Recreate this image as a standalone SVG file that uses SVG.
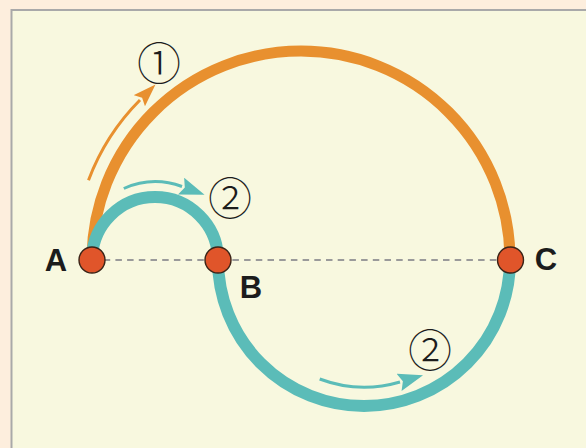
<svg xmlns="http://www.w3.org/2000/svg" width="586" height="448" viewBox="0 0 586 448">
<style>
.arc{fill:none}
.or{stroke:#e8902f}
.te{stroke:#5bbcb8}
.dash{stroke:#9a9a9a;stroke-width:2;stroke-dasharray:6.5 5.2;fill:none}
.pt{fill:#e0552a;stroke:#3a2418;stroke-width:1.4}
.lbl{font-family:"Liberation Sans",Arial,sans-serif;font-weight:bold;font-size:31px;fill:#1c1c1c;text-anchor:middle}
.num{font-family:"Noto Sans CJK JP","DejaVu Sans",sans-serif;font-size:44px;font-weight:300;fill:#1c1c1c;text-anchor:middle;dominant-baseline:central}
</style>
<defs>
<marker id="mo" markerUnits="userSpaceOnUse" markerWidth="26" markerHeight="18" refX="1" refY="8" orient="auto">
<path d="M0,0 L23,8 L0,16 L4,8 Z" fill="#e8902f"/>
</marker>
<marker id="mt" markerUnits="userSpaceOnUse" markerWidth="28" markerHeight="20" refX="1" refY="9" orient="auto">
<path d="M0,0 L25,9 L0,18 L4,9 Z" fill="#5bbcb8"/>
</marker>
</defs>
<rect x="0" y="0" width="586" height="448" fill="#fdeedd"/>
<rect x="11.5" y="10" width="590" height="450" fill="#f8f8df" stroke="#a9a9a9" stroke-width="2"/>
<g id="connectors">
<path class="dash" d="M92,260 H510"/>
<path id="arc1" class="arc or" stroke-width="11" d="M92,260 A209,209 0 0 1 510,260"/>
<path id="arc2a" class="arc te" stroke-width="12" d="M92,260 A63,63 0 0 1 218,260"/>
<path id="arc2b" class="arc te" stroke-width="12" d="M218,260 A146,146 0 0 0 510,260"/>
<path class="arc or" stroke-width="3" marker-end="url(#mo)" d="M88.5,180.2 A227,227 0 0 1 140,100"/>
<path class="arc te" stroke-width="3" marker-end="url(#mt)" d="M123.8,188.5 A78,78 0 0 1 182,186.5"/>
<path class="arc te" stroke-width="3" marker-end="url(#mt)" d="M319.7,379 A127,127 0 0 0 400,382"/>
</g>
<g id="nodeA"><circle class="pt" cx="92" cy="260" r="13"/><text class="lbl" x="56" y="271">A</text></g>
<g id="nodeB"><circle class="pt" cx="218" cy="260" r="13"/><text class="lbl" x="251" y="298">B</text></g>
<g id="nodeC"><circle class="pt" cx="510.5" cy="260" r="13"/><text class="lbl" x="546" y="270">C</text></g>
<g id="labels">
<text class="num" x="159" y="61">①</text>
<text class="num" x="230" y="196">②</text>
<text class="num" x="430" y="348">②</text>
</g>
</svg>
